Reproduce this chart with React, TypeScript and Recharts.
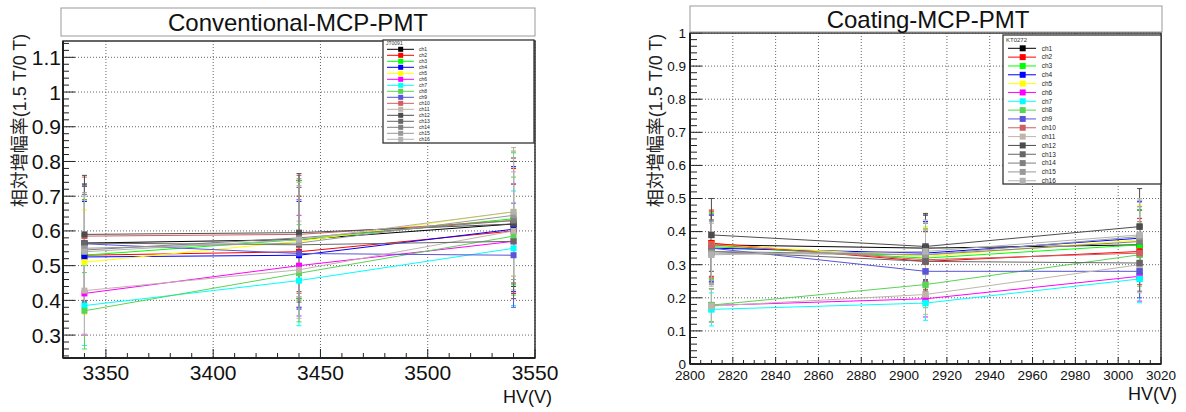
import React from 'react'
import { LineChart, Line, XAxis, YAxis, CartesianGrid, ErrorBar, ReferenceArea } from 'recharts'

const channels = ['ch1', 'ch2', 'ch3', 'ch4', 'ch5', 'ch6', 'ch7', 'ch8', 'ch9', 'ch10', 'ch11', 'ch12', 'ch13', 'ch14', 'ch15', 'ch16']
const channelColors = [
  '#000000', '#ff0000', '#00ff00', '#0000ff', '#ffff00', '#ff00ff', '#00ffff', '#59d454',
  '#5954d9', '#cf5e61', '#bfb5ab', '#4c4c4c', '#666666', '#7f7f7f', '#999999', '#b2b2b2',
]

// Conventional-MCP-PMT (JT0091): relative gain 1.5 T / 0 T at each HV
const convHV = [3340, 3440, 3540]
const convGain = [
  [0.565, 0.575, 0.62],
  [0.53, 0.54, 0.6],
  [0.53, 0.575, 0.635],
  [0.525, 0.53, 0.605],
  [0.51, 0.57, 0.655],
  [0.42, 0.5, 0.57],
  [0.385, 0.457, 0.55],
  [0.37, 0.478, 0.585],
  [0.563, 0.535, 0.53],
  [0.585, 0.59, 0.63],
  [0.428, 0.488, 0.6],
  [0.59, 0.595, 0.62],
  [0.565, 0.56, 0.57],
  [0.545, 0.58, 0.63],
  [0.55, 0.565, 0.645],
  [0.54, 0.575, 0.655],
]
const convErr = [
  [0.17, 0.17, 0.18],
  [0.16, 0.16, 0.18],
  [0.16, 0.17, 0.19],
  [0.16, 0.155, 0.18],
  [0.15, 0.17, 0.185],
  [0.12, 0.145, 0.165],
  [0.115, 0.13, 0.165],
  [0.11, 0.14, 0.17],
  [0.165, 0.155, 0.15],
  [0.17, 0.17, 0.18],
  [0.125, 0.14, 0.17],
  [0.17, 0.17, 0.18],
  [0.165, 0.165, 0.165],
  [0.16, 0.17, 0.18],
  [0.16, 0.165, 0.185],
  [0.16, 0.165, 0.185],
]
const convXMajor = [3350, 3400, 3450, 3500, 3550]
const convYMajor = [0.3, 0.4, 0.5, 0.6, 0.7, 0.8, 0.9, 1, 1.1]

// Coating-MCP-PMT (KT0272)
const coatHV = [2810, 2910, 3010]
const coatGain = [
  [0.36, 0.35, 0.36],
  [0.365, 0.31, 0.34],
  [0.355, 0.32, 0.36],
  [0.35, 0.335, 0.38],
  [0.36, 0.325, 0.375],
  [0.177, 0.197, 0.265],
  [0.165, 0.184, 0.257],
  [0.178, 0.24, 0.33],
  [0.35, 0.28, 0.28],
  [0.36, 0.315, 0.335],
  [0.175, 0.21, 0.3],
  [0.39, 0.355, 0.415],
  [0.34, 0.31, 0.305],
  [0.34, 0.33, 0.37],
  [0.335, 0.33, 0.385],
  [0.33, 0.34, 0.39],
]
const coatErr = [
  [0.1, 0.1, 0.105],
  [0.1, 0.09, 0.1],
  [0.1, 0.09, 0.105],
  [0.1, 0.095, 0.11],
  [0.1, 0.09, 0.105],
  [0.05, 0.055, 0.075],
  [0.05, 0.052, 0.072],
  [0.05, 0.07, 0.095],
  [0.1, 0.08, 0.08],
  [0.1, 0.09, 0.095],
  [0.05, 0.06, 0.085],
  [0.11, 0.1, 0.115],
  [0.095, 0.09, 0.085],
  [0.095, 0.095, 0.105],
  [0.095, 0.095, 0.11],
  [0.095, 0.095, 0.11],
]
const coatXMajor = [2800, 2820, 2840, 2860, 2880, 2900, 2920, 2940, 2960, 2980, 3000, 3020]
const coatYMajor = [0, 0.1, 0.2, 0.3, 0.4, 0.5, 0.6, 0.7, 0.8, 0.9, 1]

const FONT = "'Liberation Sans', Arial, Helvetica, sans-serif"
const CJK_FONT = "'Liberation Sans', 'Noto Sans CJK JP', sans-serif"
const Y_TITLE = '相対増幅率(1.5 T/0 T)'

const fmt = (v: number) => String(Number(v.toFixed(2)))
const isIn = (list: number[], v: number) => list.some((m) => Math.abs(m - v) < 1e-6)

function steps(lo: number, hi: number, step: number) {
  const out: number[] = []
  const n = Math.round((hi - lo) / step)
  for (let i = 0; i <= n; i++) out.push(Number((lo + i * step).toFixed(4)))
  return out
}

function buildRows(hv: number[], gain: number[][], err: number[][]) {
  return hv.map((x, i) => {
    const row: Record<string, number> = { hv: x }
    channels.forEach((c, k) => {
      row[c] = gain[k][i]
      row[c + 'e'] = err[k][i]
    })
    return row
  })
}

interface PanelCfg {
  left: number
  width: number
  height: number
  margin: { top: number; right: number; bottom: number; left: number }
  yAxisWidth: number
  xAxisHeight: number
  rows: Record<string, number>[]
  xDomain: [number, number]
  yDomain: [number, number]
  xTicks: number[]
  yTicks: number[]
  xMajor: number[]
  yMajor: number[]
  font: number
  xLabelDy: number
  yLabelDx: number
  xLen: [number, number]
  yLen: [number, number]
  marker: number
}

function Panel({ cfg }: { cfg: PanelCfg }) {
  const xTick = (p: any) => {
    const v = p.payload.value
    const major = isIn(cfg.xMajor, v)
    return (
      <g>
        <line x1={p.x} x2={p.x} y1={p.y} y2={p.y - (major ? cfg.xLen[0] : cfg.xLen[1])} stroke="#222" strokeWidth={1} />
        {major && (
          <text x={p.x} y={p.y + cfg.xLabelDy} textAnchor="middle" fontSize={cfg.font} fontFamily={FONT} fill="#111">
            {fmt(v)}
          </text>
        )}
      </g>
    )
  }
  const yTick = (p: any) => {
    const v = p.payload.value
    const major = isIn(cfg.yMajor, v)
    return (
      <g>
        <line x1={p.x} x2={p.x + (major ? cfg.yLen[0] : cfg.yLen[1])} y1={p.y} y2={p.y} stroke="#222" strokeWidth={1} />
        {major && (
          <text x={p.x - cfg.yLabelDx} y={p.y} dy="0.36em" textAnchor="end" fontSize={cfg.font} fontFamily={FONT} fill="#111">
            {fmt(v)}
          </text>
        )}
      </g>
    )
  }
  const s = cfg.marker
  return (
    <div style={{ position: 'absolute', left: cfg.left, top: 0 }}>
      <LineChart width={cfg.width} height={cfg.height} data={cfg.rows} margin={cfg.margin}>
        <CartesianGrid stroke="#666" strokeDasharray="1 2" horizontalValues={cfg.yMajor} verticalValues={cfg.xMajor} />
        <XAxis
          dataKey="hv" type="number" domain={cfg.xDomain} allowDataOverflow ticks={cfg.xTicks} interval={0}
          tickSize={0} tickMargin={0} tickLine={false} height={cfg.xAxisHeight}
          axisLine={{ stroke: '#222', strokeWidth: 2 }} tick={xTick}
        />
        <YAxis
          type="number" domain={cfg.yDomain} allowDataOverflow ticks={cfg.yTicks} interval={0}
          tickSize={0} tickMargin={0} tickLine={false} width={cfg.yAxisWidth}
          axisLine={{ stroke: '#222', strokeWidth: 2 }} tick={yTick}
        />
        <ReferenceArea
          x1={cfg.xDomain[0]} x2={cfg.xDomain[1]} y1={cfg.yDomain[0]} y2={cfg.yDomain[1]}
          fill="none" fillOpacity={0} stroke="#333" strokeWidth={1.5} ifOverflow="visible"
        />
        {channels.map((c, k) => (
          <Line
            key={c}
            dataKey={c}
            type="linear"
            stroke={channelColors[k]}
            strokeWidth={1}
            activeDot={false}
            isAnimationActive={false}
            dot={(p: any) => (
              <rect key={`${c}-${p.index}`} x={p.cx - s / 2} y={p.cy - s / 2} width={s} height={s} fill={channelColors[k]} />
            )}
          >
            <ErrorBar dataKey={c + 'e'} direction="y" width={2.5} stroke={channelColors[k]} strokeWidth={1} isAnimationActive={false} />
          </Line>
        ))}
      </LineChart>
    </div>
  )
}

interface LegendCfg {
  x: number; y: number; w: number; h: number
  header: string; headerY: number; headerFont: number
  row0: number; rowStep: number
  line: [number, number]; markerX: number; marker: number
  labelX: number; font: number
}

function LegendBox({ cfg }: { cfg: LegendCfg }) {
  return (
    <g>
      <rect x={cfg.x} y={cfg.y} width={cfg.w} height={cfg.h} fill="#fff" stroke="#333" strokeWidth={1.3} />
      <text x={cfg.x + 3} y={cfg.headerY} fontSize={cfg.headerFont} fontFamily={FONT} fill="#333">{cfg.header}</text>
      {channels.map((c, k) => {
        const cy = cfg.row0 + k * cfg.rowStep
        return (
          <g key={c}>
            <line x1={cfg.line[0]} x2={cfg.line[1]} y1={cy} y2={cy} stroke={channelColors[k]} strokeWidth={1} />
            <rect x={cfg.markerX - cfg.marker / 2} y={cy - cfg.marker / 2} width={cfg.marker} height={cfg.marker} fill={channelColors[k]} />
            <text x={cfg.labelX} y={cy} dy="0.35em" fontSize={cfg.font} fontFamily={FONT} fill="#222">{c}</text>
          </g>
        )
      })}
    </g>
  )
}

const convCfg: PanelCfg = {
  left: 0, width: 600, height: 412,
  margin: { top: 41, right: 65, bottom: 14, left: 13 },
  yAxisWidth: 50, xAxisHeight: 40,
  rows: buildRows(convHV, convGain, convErr),
  xDomain: [3330, 3550], yDomain: [0.234, 1.147],
  xTicks: steps(3340, 3550, 10), yTicks: steps(0.24, 1.14, 0.02),
  xMajor: convXMajor, yMajor: convYMajor,
  font: 21, xLabelDy: 21.5, yLabelDx: 2,
  xLen: [9, 5], yLen: [12, 6], marker: 6,
}

const coatCfg: PanelCfg = {
  left: 600, width: 586, height: 412,
  margin: { top: 33, right: 25, bottom: 18, left: 40 },
  yAxisWidth: 50, xAxisHeight: 30,
  rows: buildRows(coatHV, coatGain, coatErr),
  xDomain: [2800, 3020], yDomain: [0, 1],
  xTicks: steps(2800, 3020, 5), yTicks: steps(0, 1, 0.02),
  xMajor: coatXMajor, yMajor: coatYMajor,
  font: 13.5, xLabelDy: 15.5, yLabelDx: 4,
  xLen: [7, 4], yLen: [12, 7], marker: 6.5,
}

const convLegend: LegendCfg = {
  x: 383, y: 40, w: 151, h: 103, header: 'JT0091', headerY: 45, headerFont: 5,
  row0: 49.3, rowStep: 6, line: [387, 414], markerX: 400.7, marker: 5, labelX: 419, font: 5,
}
const coatLegend: LegendCfg = {
  x: 1003, y: 35, w: 158, h: 149, header: 'KT0272', headerY: 42, headerFont: 6,
  row0: 48.3, rowStep: 8.83, line: [1008, 1036], markerX: 1022.7, marker: 6, labelX: 1041.7, font: 6.5,
}

export default function App() {
  return (
    <div style={{ position: 'absolute', left: 0, top: 0, width: 1186, height: 412, background: '#fff' }}>
      <Panel cfg={convCfg} />
      <Panel cfg={coatCfg} />
      <svg width={1186} height={412} style={{ position: 'absolute', left: 0, top: 0, pointerEvents: 'none' }}>
        <rect x={61} y={8} width={474} height={28} fill="#fff" stroke="#999" strokeWidth={1} />
        <text x={298} y={31} textAnchor="middle" fontSize={24} fontFamily={FONT} fill="#111">Conventional-MCP-PMT</text>
        <rect x={690} y={6} width={472} height={26} fill="#fff" stroke="#999" strokeWidth={1} />
        <text x={928} y={28} textAnchor="middle" fontSize={24} fontFamily={FONT} fill="#111">Coating-MCP-PMT</text>
        <text transform="translate(26,120.5) rotate(-90)" textAnchor="middle" fontSize={18} fontFamily={CJK_FONT} fill="#222">{Y_TITLE}</text>
        <text transform="translate(662,120.5) rotate(-90)" textAnchor="middle" fontSize={18} fontFamily={CJK_FONT} fill="#222">{Y_TITLE}</text>
        <text x={552} y={403} textAnchor="end" fontSize={18} fontFamily={FONT} fill="#111">HV(V)</text>
        <text x={1177} y={400} textAnchor="end" fontSize={18} fontFamily={FONT} fill="#111">HV(V)</text>
        <LegendBox cfg={convLegend} />
        <LegendBox cfg={coatLegend} />
      </svg>
    </div>
  )
}
